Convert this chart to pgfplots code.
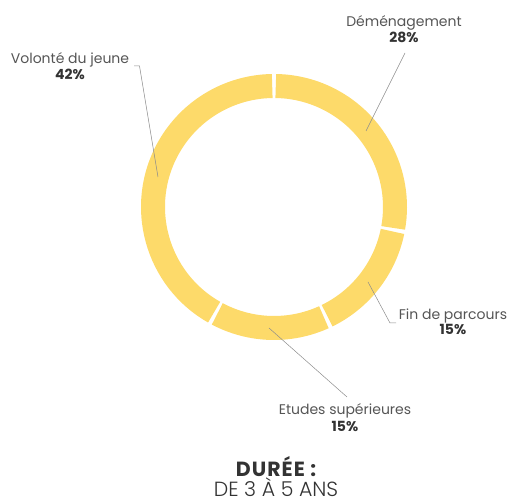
\documentclass[border=0pt]{standalone}
\usepackage{pgfplots}
\pgfplotsset{compat=1.18}
\usepackage{pgfplotstable}
\usepackage{fontspec}
\setmainfont{Poppins}
\newfontfamily\lightfont{Poppins Light}
\definecolor{donut}{HTML}{FDDA6A}
\definecolor{lbl}{HTML}{555555}
\definecolor{pct}{HTML}{333333}
\definecolor{lead}{HTML}{8C8C8C}
\pgfplotstableread[col sep=comma]{
label,value
Déménagement,28
Fin de parcours,15
Etudes supérieures,15
Volonté du jeune,42
}\data
\begin{document}
\begin{tikzpicture}
\begin{axis}[
  scale only axis, width=512pt, height=502pt,
  xmin=0, xmax=512, ymin=0, ymax=502,
  axis lines=none, clip=false,
]
\path (axis cs:0,0) rectangle (axis cs:512,502);
\gdef\cum{0}
\pgfplotsinvokeforeach{0,...,3}{
  \pgfplotstablegetelem{#1}{value}\of\data
  \pgfmathsetmacro\a{90-3.6*\cum-0.85}
  \pgfmathsetmacro\b{90-3.6*(\cum+\pgfplotsretval)+0.85}
  \pgfmathsetmacro\newcum{\cum+\pgfplotsretval}
  \xdef\cum{\newcum}
  \edef\temp{\noexpand\draw[donut, line width=24pt] (axis cs:274,295) ++(\a:121pt) arc[start angle=\a, end angle=\b, radius=121pt];}
  \temp
}
% leader lines
\draw[lead, line width=0.5pt] (axis cs:134,436) -- (axis cs:139.5,436) -- (axis cs:158,325);
\draw[lead, line width=0.5pt] (axis cs:405,449) -- (axis cs:366,371);
\draw[lead, line width=0.5pt] (axis cs:368,220) -- (axis cs:390,179) -- (axis cs:396,179);
\draw[lead, line width=0.5pt] (axis cs:269,174) -- (axis cs:347,105);
% labels
\tikzset{every node/.append style={inner sep=0pt, outer sep=0pt}}
\node[lbl, font=\fontsize{14}{16}\selectfont, anchor=base] at (axis cs:70,438) {Volonté du jeune};
\node[pct, font=\fontsize{14}{16}\selectfont\bfseries, anchor=base] at (axis cs:70,422) {42\%};
\node[lbl, font=\fontsize{14}{16}\selectfont, anchor=base] at (axis cs:404,475) {Déménagement};
\node[pct, font=\fontsize{14}{16}\selectfont\bfseries, anchor=base] at (axis cs:404,459.5) {28\%};
\node[lbl, font=\fontsize{14}{16}\selectfont, anchor=base] at (axis cs:453,182) {Fin de parcours};
\node[pct, font=\fontsize{14}{16}\selectfont\bfseries, anchor=base] at (axis cs:453,167) {15\%};
\node[lbl, font=\fontsize{14}{16}\selectfont, anchor=base] at (axis cs:345,87) {Etudes supérieures};
\node[pct, font=\fontsize{14}{16}\selectfont\bfseries, anchor=base] at (axis cs:345,70) {15\%};
\node[pct, align=center, anchor=south, font=\fontsize{20.5}{18.5}\selectfont] at (axis cs:276,5)
  {{\bfseries\addfontfeatures{LetterSpace=5}DURÉE :}\\{\lightfont DE 3 À 5 ANS}};
\end{axis}
\end{tikzpicture}
\end{document}
